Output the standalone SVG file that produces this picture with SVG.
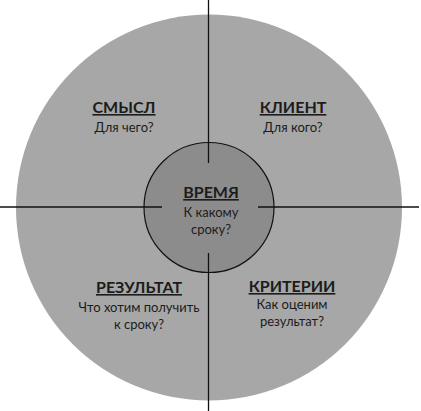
<svg xmlns="http://www.w3.org/2000/svg" width="421" height="411" viewBox="0 0 421 411">
<style>
.t{font-family:Lato,"Noto Sans",sans-serif;fill:#1c1c1c;text-anchor:middle}
.h{font-size:16px;font-weight:bold;text-decoration:underline}
.s{font-size:13px}
.ln{stroke:#111;stroke-width:1.3;fill:none}
</style>
<rect width="421" height="411" fill="#ffffff"/>
<g id="outer"><circle cx="209" cy="207.5" r="193" fill="#a7a7a7"/></g>
<g id="center"><circle cx="209" cy="207.5" r="65" fill="#8c8c8c" stroke="#111" stroke-width="1.2"/>
<text class="t h" x="211" y="198">ВРЕМЯ</text>
<text class="t s" x="211" y="217">К какому</text>
<text class="t s" x="211" y="234">сроку?</text></g>
<g id="connectors" class="ln">
<line x1="208.5" y1="0" x2="208.5" y2="163"/>
<line x1="208.5" y1="253" x2="208.5" y2="411"/>
<line x1="0" y1="207" x2="162" y2="207"/>
<line x1="258" y1="207" x2="419" y2="207"/>
</g>
<g id="smysl"><text class="t h" x="124" y="113">СМЫСЛ</text><text class="t s" x="124" y="132">Для чего?</text></g>
<g id="klient"><text class="t h" x="293" y="113">КЛИЕНТ</text><text class="t s" x="293" y="132">Для кого?</text></g>
<g id="rezultat"><text class="t h" x="139" y="293">РЕЗУЛЬТАТ</text><text class="t s" x="139" y="312">Что хотим получить</text><text class="t s" x="139" y="329">к сроку?</text></g>
<g id="kriterii"><text class="t h" x="292" y="292">КРИТЕРИИ</text><text class="t s" x="292" y="309">Как оценим</text><text class="t s" x="292" y="326">результат?</text></g>
</svg>
